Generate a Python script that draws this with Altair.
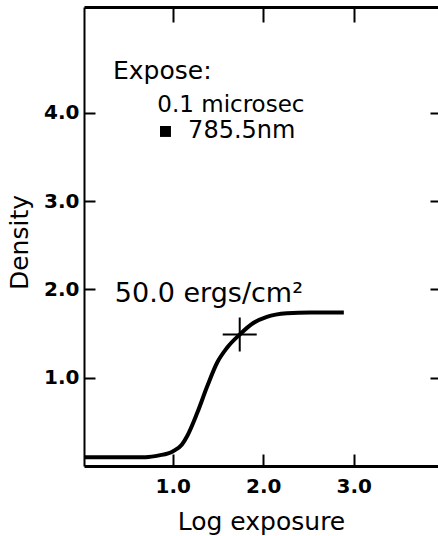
import altair as alt
import pandas as pd

# Characteristic curve
log_exposure = [0.02, 0.40, 0.70, 0.85, 1.00, 1.10, 1.16, 1.27, 1.38, 1.49, 1.60, 1.74, 1.89, 2.04, 2.26, 2.52, 2.89]
density = [0.10, 0.10, 0.10, 0.12, 0.165, 0.24, 0.34, 0.60, 0.90, 1.17, 1.34, 1.49, 1.62, 1.69, 1.73, 1.74, 1.74]

# Cross marker on the curve (50.0 ergs/cm2 point)
marker_x = [1.74]
marker_y = [1.49]

# Legend square symbol
square_x = [0.92]
square_y = [3.79]

# Tick values
x_ticks = [1.0, 2.0, 3.0]
y_ticks = [1.0, 2.0, 3.0, 4.0]

# Annotations (anchor in data units)
note_text = ["Expose:", "0.1 microsec", "785.5nm", "50.0 ergs/cm²"]
note_x = [0.34, 0.83, 1.17, 0.36]
note_y = [4.48, 4.09, 3.79, 1.95]

FONT = "DejaVu Sans"
X_DOMAIN = [0.02, 3.93]
Y_DOMAIN = [0.0, 5.2]

curve_df = pd.DataFrame({"x": log_exposure, "y": density})
marker_df = pd.DataFrame({"x": marker_x, "y": marker_y})
square_df = pd.DataFrame({"x": square_x, "y": square_y})

x_scale = alt.Scale(domain=X_DOMAIN, nice=False, zero=False)
y_scale = alt.Scale(domain=Y_DOMAIN, nice=False, zero=False)

# Layer 1: the curve, with bottom (labels + title) and left (labels + title) axes
curve = alt.Chart(curve_df).mark_line(
    color="black", strokeWidth=4, interpolate="monotone", clip=True
).encode(
    x=alt.X("x:Q", scale=x_scale, axis=alt.Axis(
        orient="bottom", values=x_ticks, format=".1f", grid=False,
        ticks=False, domain=True, domainColor="black", domainWidth=3,
        labelFont=FONT, labelFontSize=20, labelFontWeight="bold", labelColor="black",
        labelPadding=10,
        title="Log exposure", titleFont=FONT, titleFontSize=25, titleFontWeight="normal",
        titleColor="black", titleBaseline="alphabetic", titleAlign="center",
        titleX=177, titleY=63,
    )),
    y=alt.Y("y:Q", scale=y_scale, axis=alt.Axis(
        orient="left", values=y_ticks, format=".1f", grid=False,
        ticks=False, domain=True, domainColor="black", domainWidth=2,
        labelFont=FONT, labelFontSize=20, labelFontWeight="bold", labelColor="black",
        labelPadding=5,
        title="Density", titleFont=FONT, titleFontSize=25, titleFontWeight="normal",
        titleColor="black", titleAngle=270, titleBaseline="alphabetic", titleAlign="center",
        titleX=-57, titleY=235,
    )),
)

# Layer 2: the cross marker, carrying inward ticks on bottom and left
cross = alt.Chart(marker_df).mark_point(
    shape="M-1,0L1,0M0,-1L0,1", size=1156, color="black", strokeWidth=2, filled=False, opacity=1
).encode(
    x=alt.X("x:Q", scale=x_scale, axis=alt.Axis(
        orient="bottom", values=x_ticks, grid=False, offset=-12, tickSize=12,
        tickWidth=2, tickColor="black", domain=False, labels=False, title=None,
    )),
    y=alt.Y("y:Q", scale=y_scale, axis=alt.Axis(
        orient="left", values=y_ticks, grid=False, offset=-11, tickSize=11,
        tickWidth=2, tickColor="black", domain=False, labels=False, title=None,
    )),
)

# Layer 3: legend square, carrying top border and right ticks
square = alt.Chart(square_df).mark_point(
    shape="square", size=120, filled=True, color="black", opacity=1
).encode(
    x=alt.X("x:Q", scale=x_scale, axis=alt.Axis(
        orient="top", values=x_ticks, grid=False, ticks=False, labels=False,
        domain=True, domainColor="black", domainWidth=3, title=None,
    )),
    y=alt.Y("y:Q", scale=y_scale, axis=alt.Axis(
        orient="right", values=y_ticks, grid=False, offset=-8, tickSize=8,
        tickWidth=2, tickColor="black", domain=False, labels=False, title=None,
    )),
)

note_sizes = [25, 23, 24, 27]
note_layers = []
for i, (t, nx, ny) in enumerate(zip(note_text, note_x, note_y)):
    df = pd.DataFrame({"x": [nx], "y": [ny], "label": [t]})
    if i == 0:
        xenc = alt.X("x:Q", scale=x_scale, axis=alt.Axis(
            orient="top", values=x_ticks, grid=False, offset=-15, tickSize=15,
            tickWidth=2, tickColor="black", domain=False, labels=False, title=None,
        ))
    else:
        xenc = alt.X("x:Q", scale=x_scale, axis=None)
    layer = alt.Chart(df).mark_text(
        align="left", baseline="middle", font=FONT, fontSize=note_sizes[i], color="black"
    ).encode(
        x=xenc,
        y=alt.Y("y:Q", scale=y_scale, axis=None),
        text="label:N",
    )
    note_layers.append(layer)

chart = alt.layer(curve, cross, square, *note_layers).resolve_axis(
    x="independent", y="independent"
).properties(
    width=354,
    height=459,
    autosize=alt.AutoSizeParams(type="none"),
    padding={"left": 84, "top": 7, "right": 0, "bottom": 70},
    background="white",
).configure_view(stroke=None)

chart.save("out.html", embed_options={"renderer": "svg", "actions": False})
